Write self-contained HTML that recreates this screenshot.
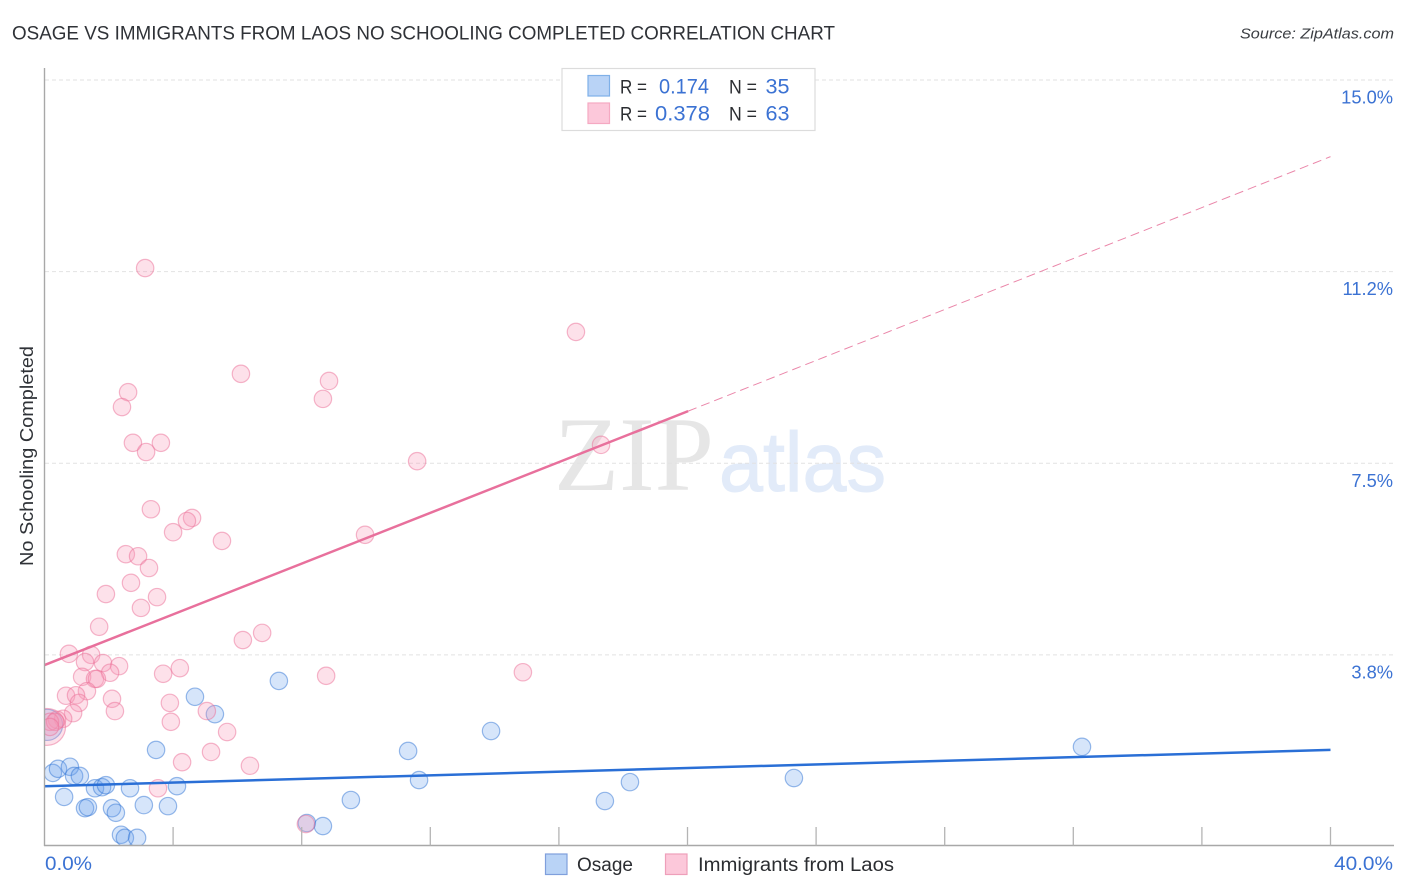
<!DOCTYPE html>
<html lang="en">
<head>
<meta charset="utf-8">
<title>Osage vs Immigrants from Laos No Schooling Completed Correlation Chart</title>
<style>
html,body{margin:0;padding:0;background:#fff;}
svg{display:block;font-family:"Liberation Sans",sans-serif;}
</style>
</head>
<body>
<svg id="chart" width="1406" height="892" viewBox="0 0 1406 892" xmlns="http://www.w3.org/2000/svg">
  <defs>
    <clipPath id="plot-clip"><rect x="44.5" y="60" width="1350" height="785"/></clipPath>
  </defs>
  <rect x="0" y="0" width="1406" height="892" fill="#fff"/>
  <text x="12" y="39.5" font-size="19.5" fill="#2f3237" textLength="823" lengthAdjust="spacingAndGlyphs">OSAGE VS IMMIGRANTS FROM LAOS NO SCHOOLING COMPLETED CORRELATION CHART</text>
  <text x="1394" y="38.5" font-size="15" font-style="italic" fill="#3a3d42" text-anchor="end" textLength="154" lengthAdjust="spacingAndGlyphs">Source: ZipAtlas.com</text>
  <text x="554" y="490" font-family="'Liberation Serif',serif" font-size="106" fill="#e6e6e6" textLength="160" lengthAdjust="spacingAndGlyphs">ZIP</text>
  <text x="719" y="491" font-size="84" fill="#e2ebf9" stroke="#e2ebf9" stroke-width="1" textLength="167" lengthAdjust="spacingAndGlyphs">atlas</text>
  <g id="grid"></g>
  <g id="points-osage" clip-path="url(#plot-clip)"></g>
  <g id="points-laos" clip-path="url(#plot-clip)"></g>
  <g id="trends"></g>
  <g id="axes">
    <line x1="44.5" y1="68" x2="44.5" y2="846" stroke="#a8a8a8" stroke-width="1.4"/>
    <line x1="44" y1="845.5" x2="1394" y2="845.5" stroke="#a8a8a8" stroke-width="1.4"/>
  </g>
  <g id="x-ticks"></g>
  <g id="y-labels"></g>
  <text x="45" y="870" font-size="19" fill="#3b72d3" textLength="47" lengthAdjust="spacingAndGlyphs">0.0%</text>
  <text x="1393" y="870" font-size="19" fill="#3b72d3" text-anchor="end" textLength="59" lengthAdjust="spacingAndGlyphs">40.0%</text>
  <text transform="translate(33,566) rotate(-90)" font-size="18.5" fill="#2f3237" textLength="220" lengthAdjust="spacingAndGlyphs">No Schooling Completed</text>

  <g>
    <rect x="562" y="68.5" width="253" height="62" fill="#fff" stroke="#dcdcdc" stroke-width="1.2"/>
    <rect x="588" y="75.5" width="21.5" height="20.5" fill="#b9d3f6" stroke="#7fb0e8" stroke-width="1.2"/>
    <rect x="588" y="103" width="21.5" height="20.5" fill="#fcc8da" stroke="#f5a9c2" stroke-width="1.2"/>
    <text x="620" y="93.5" font-size="19" fill="#2b2d31" textLength="27" lengthAdjust="spacingAndGlyphs">R =</text>
    <text x="659" y="93.5" font-size="21" fill="#3b72d3" textLength="50" lengthAdjust="spacingAndGlyphs">0.174</text>
    <text x="729" y="93.5" font-size="19" fill="#2b2d31" textLength="28" lengthAdjust="spacingAndGlyphs">N =</text>
    <text x="765.5" y="93.5" font-size="21" fill="#3b72d3" textLength="24" lengthAdjust="spacingAndGlyphs">35</text>
    <text x="620" y="120.5" font-size="19" fill="#2b2d31" textLength="27" lengthAdjust="spacingAndGlyphs">R =</text>
    <text x="655" y="120.5" font-size="21" fill="#3b72d3" textLength="55" lengthAdjust="spacingAndGlyphs">0.378</text>
    <text x="729" y="120.5" font-size="19" fill="#2b2d31" textLength="28" lengthAdjust="spacingAndGlyphs">N =</text>
    <text x="765.5" y="120.5" font-size="21" fill="#3b72d3" textLength="24" lengthAdjust="spacingAndGlyphs">63</text>
  </g>

  <g>
    <rect x="545.5" y="854" width="21.5" height="20.5" fill="#b9d3f6" stroke="#7f9fdc" stroke-width="1.2"/>
    <text x="577" y="871" font-size="19" fill="#2b2d31" textLength="56" lengthAdjust="spacingAndGlyphs">Osage</text>
    <rect x="665.5" y="854" width="21.5" height="20.5" fill="#fcc8da" stroke="#ee9fba" stroke-width="1.2"/>
    <text x="698" y="871" font-size="19" fill="#2b2d31" textLength="196" lengthAdjust="spacingAndGlyphs">Immigrants from Laos</text>
  </g>
</svg>
<script>
var gridValues = [15, 11.25, 7.5, 3.75];
var yTickLabels = ["15.0%", "11.2%", "7.5%", "3.8%"];
var xTickValues = [4, 8, 12, 16, 20, 24, 28, 32, 36, 40];

var osageX = [0.26,0.42,0.79,0.92,1.10,1.57,1.79,1.91,2.66,0.61,1.26,1.35,2.10,2.22,3.09,3.84,4.12,3.47,4.68,5.30,7.29,2.38,2.50,2.88,8.16,8.66,9.53,11.31,11.65,13.89,17.43,18.21,23.31,32.27,0.08];
var osageY = [1.44,1.52,1.56,1.38,1.38,1.14,1.16,1.20,1.14,0.97,0.75,0.77,0.75,0.66,0.81,0.79,1.18,1.89,2.93,2.59,3.24,0.23,0.17,0.17,0.46,0.40,0.91,1.87,1.30,2.26,0.89,1.26,1.34,1.95,2.38];
var osageWeight = [1,1,1,1,1,1,1,1,1,1,1,1,1,1,1,1,1,1,1,1,1,1,1,1,1,1,1,1,1,1,1,1,1,1,3.2];

var laosX = [0.76,1.45,1.26,1.82,2.32,2.04,1.17,1.57,1.63,1.32,0.67,0.98,1.07,2.10,2.19,0.89,0.58,0.39,3.69,4.21,3.90,3.93,5.05,5.68,5.18,4.28,6.39,3.53,3.13,16.53,6.11,8.85,2.60,2.41,8.66,2.75,3.62,3.16,11.59,17.31,3.31,4.59,4.43,4.00,9.97,5.52,2.53,2.91,3.25,2.69,1.91,3.50,3.00,1.70,6.77,6.17,14.88,8.76,8.13,0.08,0.17,0.33,0.17];
var laosY = [3.77,3.75,3.61,3.59,3.53,3.40,3.32,3.28,3.28,3.04,2.95,2.96,2.81,2.89,2.65,2.61,2.50,2.48,3.38,3.49,2.81,2.44,2.65,2.24,1.85,1.65,1.58,1.14,11.32,10.07,9.25,9.11,8.89,8.60,8.76,7.90,7.90,7.72,7.54,7.86,6.60,6.43,6.37,6.15,6.10,5.98,5.72,5.68,5.45,5.16,4.94,4.88,4.67,4.30,4.18,4.04,3.41,3.34,0.44,2.34,2.44,2.44,2.34];
var laosWeight = [1,1,1,1,1,1,1,1,1,1,1,1,1,1,1,1,1,1,1,1,1,1,1,1,1,1,1,1,1,1,1,1,1,1,1,1,1,1,1,1,1,1,1,1,1,1,1,1,1,1,1,1,1,1,1,1,1,1,1,4.5,1,1,1];

var osageTrendX = [0, 40];
var osageTrendY = [1.18, 1.89];
var laosTrendX = [0, 20.02];
var laosTrendY = [3.55, 8.52];
var laosProjectionX = [20.02, 40];
var laosProjectionY = [8.52, 13.5];

function xScale(v) { return 44.5 + v * 32.15; }
function yScale(v) { return 846.5 - v * 51.1; }
function radius(w) { return 8.7 * Math.sqrt(w); }

var NS = "http://www.w3.org/2000/svg";
function make(parent, tag, attrs) {
  var el = document.createElementNS(NS, tag);
  for (var k in attrs) { el.setAttribute(k, attrs[k]); }
  parent.appendChild(el);
  return el;
}

var gridGroup = document.getElementById("grid");
var yLabelGroup = document.getElementById("y-labels");
gridValues.forEach(function (v, i) {
  var line = make(gridGroup, "line", {
    x1: 45, x2: 1394, y1: yScale(v), y2: yScale(v),
    stroke: "#e2e2e2", "stroke-width": 1, "stroke-dasharray": "4 3"
  });
  
  
  var label = make(yLabelGroup, "text", {
    x: 1393, y: yScale(v) + 23.5, "font-size": 18.3, fill: "#3b72d3", "text-anchor": "end"
  });
  label.textContent = yTickLabels[i];
  
  
});

var tickGroup = document.getElementById("x-ticks");
xTickValues.forEach(function (v) {
  var tick = make(tickGroup, "line", {
    x1: xScale(v), x2: xScale(v), y1: 827, y2: 845.5,
    stroke: "#b4b4b4", "stroke-width": 1.3
  });
  
  
});

function drawPoints(groupId, xs, ys, weights, fill, stroke, name) {
  var group = document.getElementById(groupId);
  xs.forEach(function (x, i) {
    var c = make(group, "circle", {
      cx: xScale(x), cy: yScale(ys[i]), r: radius(weights[i]),
      fill: fill, stroke: stroke, "stroke-width": 1.2
    });
    
    
  });
}
drawPoints("points-osage", osageX, osageY, osageWeight, "rgba(104,160,238,0.27)", "rgba(44,112,212,0.48)", "osage-point");
drawPoints("points-laos", laosX, laosY, laosWeight, "rgba(248,150,182,0.29)", "rgba(236,112,152,0.50)", "laos-point");

var trendGroup = document.getElementById("trends");
var projection = make(trendGroup, "line", {
  x1: xScale(laosProjectionX[0]), y1: yScale(laosProjectionY[0]),
  x2: xScale(laosProjectionX[1]), y2: yScale(laosProjectionY[1]),
  stroke: "#ea86a9", "stroke-width": 1, "stroke-dasharray": "9 5"
});


var laosTrend = make(trendGroup, "line", {
  x1: xScale(laosTrendX[0]), y1: yScale(laosTrendY[0]),
  x2: xScale(laosTrendX[1]), y2: yScale(laosTrendY[1]),
  stroke: "#e8709c", "stroke-width": 2.5
});


var osageTrend = make(trendGroup, "line", {
  x1: xScale(osageTrendX[0]), y1: yScale(osageTrendY[0]),
  x2: xScale(osageTrendX[1]), y2: yScale(osageTrendY[1]),
  stroke: "#2a6fd6", "stroke-width": 2.5
});


</script>
</body>
</html>
